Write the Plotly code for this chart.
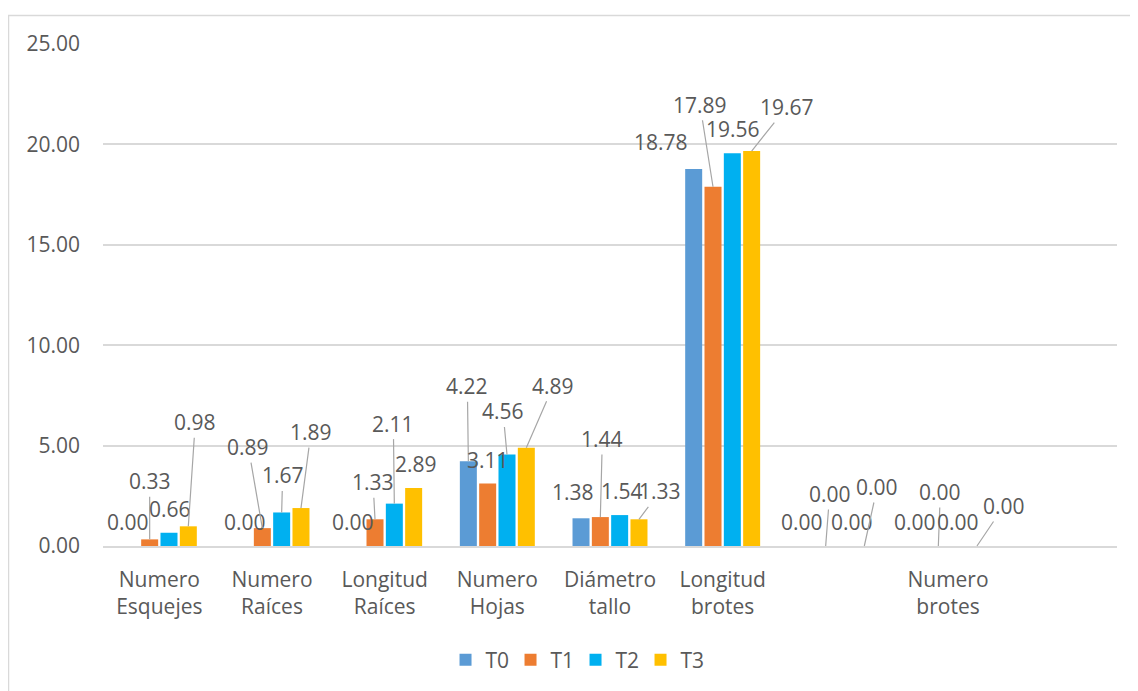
import plotly.graph_objects as go

# ---- data ----
categories = ["Numero<br>Esquejes", "Numero<br>Raíces", "Longitud<br>Raíces", "Numero<br>Hojas",
              "Diámetro<br>tallo", "Longitud<br>brotes", "", "Numero<br>brotes", " "]
series_names = ["T0", "T1", "T2", "T3"]
T0 = [0.00, 0.00, 0.00, 4.22, 1.38, 18.78, 0.00, 0.00, None]
T1 = [0.33, 0.89, 1.33, 3.11, 1.44, 17.89, 0.00, 0.00, None]
T2 = [0.66, 1.67, 2.11, 4.56, 1.54, 19.56, 0.00, 0.00, None]
T3 = [0.98, 1.89, 2.89, 4.89, 1.33, 19.67, 0.00, 0.00, None]
y_ticks = [0, 5, 10, 15, 20, 25]

# ---- styles ----
colors = ["#5B9BD5", "#ED7D31", "#00B0F0", "#FFC000"]
text_color = "#595959"
grid_color = "#D9D9D9"
FONT = "Open Sans"
FS = 21
BARGAP = 0.314
BARGROUPGAP = 0.12

# label offsets in pixels (dx, dy) from bar top, and whether a leader line is drawn
label_dx = [
    [-2, 2, -3, -1, -8, -33, -4, -4],
    [0, -14, -2, 0, 2, -13, 4, 2],
    [1, 1, -1, -4, 2, 1, 7, 0],
    [7, 10, 2, 27, 21, 35, 13, 27],
]
label_dy = [
    [-24, -24, -24, -75, -26, -27, -24, -24],
    [-58, -81, -37, -24, -78, -82, -52, -54],
    [-24, -37, -80, -43, -24, -24, -24, -24],
    [-104, -76, -24, -62, -28, -44, -59, -40],
]
leader = [
    [0, 0, 0, 1, 0, 0, 0, 0],
    [1, 1, 1, 0, 1, 1, 1, 1],
    [0, 1, 1, 1, 0, 0, 0, 0],
    [1, 1, 0, 1, 1, 1, 1, 1],
]

all_series = [T0, T1, T2, T3]
xs = list(range(len(categories)))

fig = go.Figure()
for name, vals, col in zip(series_names, all_series, colors):
    fig.add_trace(go.Bar(x=xs, y=vals, name=name, marker=dict(color=col, line=dict(width=0))))

group_w = 1 - BARGAP
slot = group_w / len(all_series)
annotations = []
for j, vals in enumerate(all_series):
    off = (j - (len(all_series) - 1) / 2) * slot
    for i, v in enumerate(vals):
        if v is None:
            continue
        annotations.append(dict(
            x=i + off, y=v, xref="x", yref="y",
            text=f"{v:.2f}", showarrow=True, arrowhead=0, arrowwidth=1.2,
            arrowcolor="#A6A6A6" if leader[j][i] else "rgba(0,0,0,0)",
            ax=label_dx[j][i], ay=label_dy[j][i], standoff=0,
            font=dict(family=FONT, size=FS, color=text_color),
        ))

# page body has an 8px margin, so the figure is offset by 8px; compensate
fig.update_layout(
    width=1130, height=683,
    margin=dict(l=95, r=21, t=36, b=144),
    paper_bgcolor="white", plot_bgcolor="white",
    barmode="group", bargap=BARGAP, bargroupgap=BARGROUPGAP,
    font=dict(family=FONT, size=FS, color=text_color),
    showlegend=True,
    legend=dict(orientation="h", x=0.466, xanchor="center", y=-0.225, yanchor="middle",
                font=dict(family=FONT, size=FS, color=text_color), itemwidth=30,
                entrywidth=20, entrywidthmode="pixels"),
    annotations=annotations,
    shapes=[dict(type="rect", xref="paper", yref="paper", x0=-0.0932, x1=1.03, y0=-0.32, y1=1.0567,
                 line=dict(color=grid_color, width=1.5), fillcolor="rgba(0,0,0,0)", layer="below")],
)
fig.update_xaxes(
    tickmode="array", tickvals=xs, ticktext=categories, range=[-0.5, len(categories) - 0.5],
    showgrid=False, zeroline=False, showline=True, linecolor=grid_color, linewidth=1.5,
    ticks="", ticklabelstandoff=14, tickfont=dict(family=FONT, size=FS, color=text_color),
)
fig.update_yaxes(
    range=[0, 25], tickvals=y_ticks, tickformat=".2f",
    showgrid=True, gridcolor=grid_color, gridwidth=1.5, zeroline=False, showline=False,
    ticks="", ticklabelstandoff=22, tickfont=dict(family=FONT, size=FS, color=text_color),
)

fig.write_html("out.html")
